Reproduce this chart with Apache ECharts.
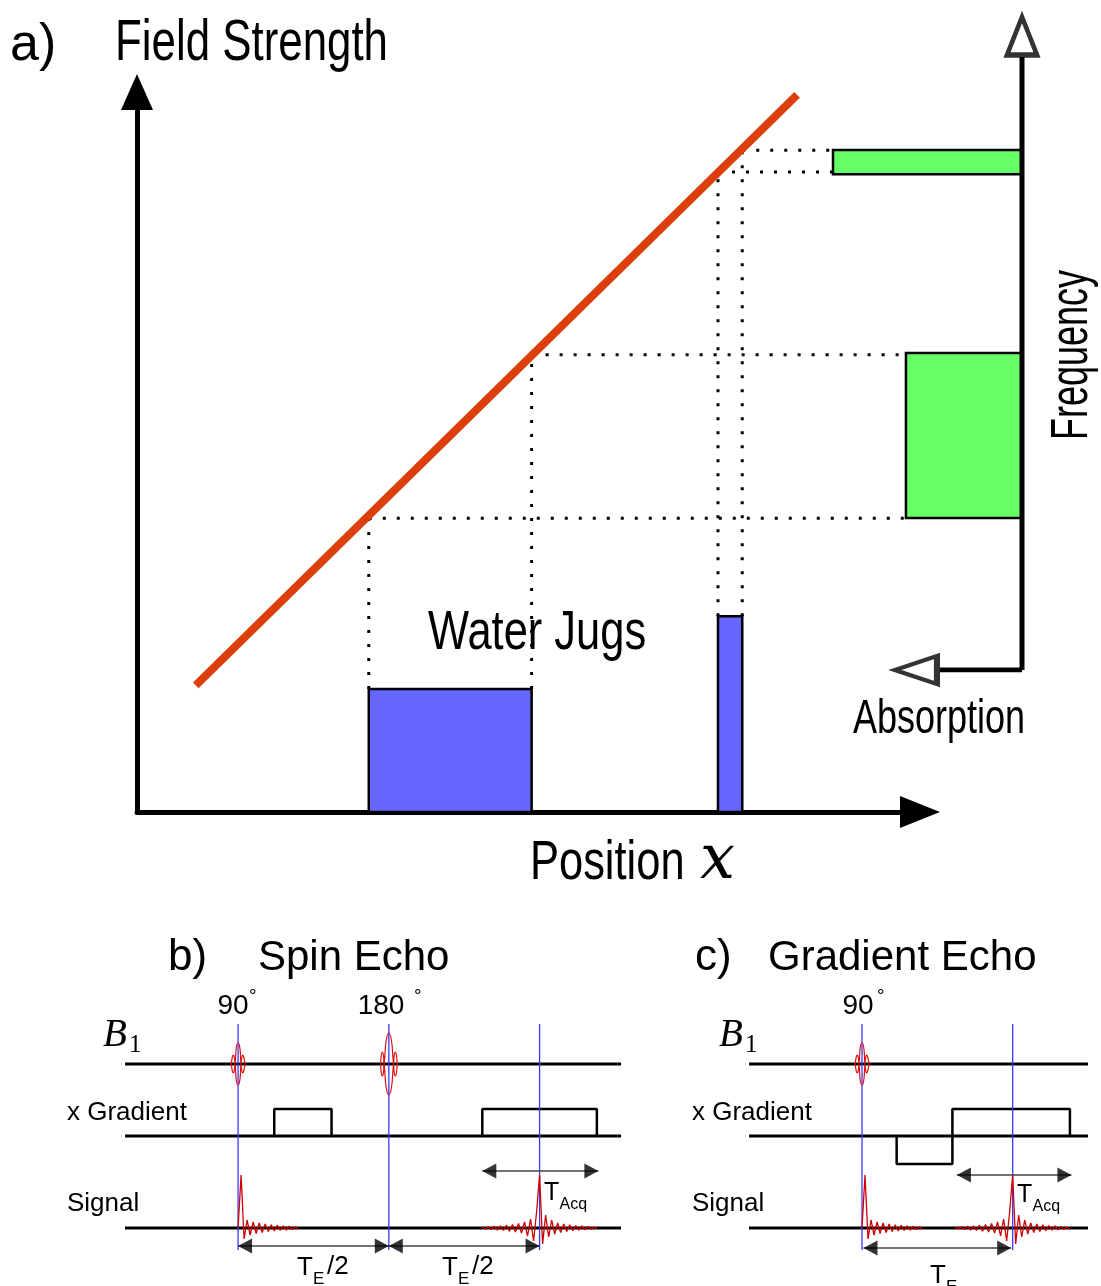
<!DOCTYPE html>
<html>
<head>
<meta charset="utf-8">
<script src="https://cdn.jsdelivr.net/npm/echarts@6/dist/echarts.min.js"></script>
<style>
  html, body { margin: 0; padding: 0; background: #fff; }
  #chart { width: 1101px; height: 1286px; }
</style>
</head>
<body>
<div id="chart"></div>
<script>
// ---------- a) field strength vs position ----------
var fieldLine = [[7.5, 17.6], [84.3, 99.6]];                 // [position, field]
var jugs = [[29.6, 50.4, 17.1], [74.2, 77.3, 27.2]];          // [x start, x end, height]
var dropLines = [[29.6, 17.1, 40.8], [50.4, 17.1, 63.5], [74.2, 27.2, 88.9], [77.3, 27.2, 91.9]]; // [x, y from, y to]
var levelLines = [[40.8, 29.6, 98.2], [63.5, 50.4, 98.2], [88.9, 74.2, 88.9], [91.9, 77.3, 88.9]]; // [y, x from, x to]
var spectrum = [[75.7, 79.4, 100], [23.2, 48.4, 61.4]];      // [freq low, freq high, absorption]

// ---------- b) spin echo / c) gradient echo (time in ms) ----------
var seTime = [-7.5, 25.4];
var sePulses = [[0, '90'], [10, '180']];
var seEcho = 20;
var seGrad = [[2.4, 6.2, 2.7], [16.2, 23.8, 2.7]];            // [start, end, amplitude]
var seArrows = [[0, 10, 0.4], [10, 20, 0.4], [16.2, 23.9, 7.9]]; // [from, to, level]

var geTime = [-7.5, 15];
var gePulses = [[0, '90']];
var geEcho = 10;
var geGrad = [[2.3, 6.0, -2.8], [6.0, 13.8, 2.7]];
var geArrows = [[0.1, 9.9, 0.2], [6.3, 13.9, 7.5]];

// rf pulse envelopes [dt, amplitude]
var env90 = [[-0.45, 0], [-0.38, 0.7], [-0.3, 0.9], [-0.24, 0.6], [-0.2, 0], [-0.12, 1.6], [0, 2.1],
             [0.12, 1.6], [0.2, 0], [0.24, 0.6], [0.3, 0.9], [0.38, 0.7], [0.45, 0]];
var env180 = [[-0.55, 0], [-0.5, 0.9], [-0.42, 1.2], [-0.35, 0.8], [-0.32, 0], [-0.18, 2.3], [0, 3.1],
              [0.18, 2.3], [0.32, 0], [0.35, 0.8], [0.42, 1.2], [0.5, 0.9], [0.55, 0]];
// sampled signals, one sample every sigStep ms
var sigStep = 0.2;
var fidAmp = [0, 5.3, -1.1, 0.8, -0.7, 0.6, -0.55, 0.5, -0.45, 0.4, -0.35, 0.32, -0.3, 0.27, -0.24,
              0.22, -0.2, 0.18, -0.16, 0.14, -0.12];
var echoAmp = [0.1, -0.12, 0.14, -0.16, 0.18, -0.2, 0.22, -0.25, 0.28, -0.32, 0.36, -0.4, 0.45, -0.5,
               0.6, -0.8, 0.9, -1.3, 1.6, 5.3, -1.6, 1.3, -0.9, 0.8, -0.6, 0.5, -0.45, 0.4, -0.36, 0.32,
               -0.28, 0.25, -0.22, 0.2, -0.18, 0.16, -0.14, 0.12, -0.1];

var SANS = '"Liberation Sans", Arial, Helvetica, sans-serif';
var SERIF = '"Liberation Serif", "Times New Roman", serif';
var ROW = { b1: 18.6, grad: 11.4, sig: 2.2 };

var chart = echarts.init(document.getElementById('chart'));

function hiddenAxis(gi, min, max, inverse) {
  return { type: 'value', gridIndex: gi, min: min, max: max, inverse: !!inverse, show: false };
}

function rectRender(fill) {
  return function (params, api) {
    var a = api.coord([api.value(0), api.value(1)]);
    var b = api.coord([api.value(2), api.value(3)]);
    return {
      type: 'rect',
      shape: { x: Math.min(a[0], b[0]), y: Math.min(a[1], b[1]), width: Math.abs(b[0] - a[0]), height: Math.abs(b[1] - a[1]) },
      style: { fill: fill, stroke: '#000', lineWidth: 2.5 }
    };
  };
}

function seg(idx, data, color, width, extra) {
  var s = {
    type: 'line', xAxisIndex: idx, yAxisIndex: idx, data: data, symbol: 'none', silent: true,
    lineStyle: { color: color, width: width }, z: 2
  };
  return Object.assign(s, extra || {});
}

var series = [];

// ---- panel a ----
series.push(seg(0, fieldLine, '#dc3f0c', 8, { z: 3 }));
dropLines.forEach(function (d) {
  series.push(seg(0, [[d[0], d[1]], [d[0], d[2]]], '#000', 3, { lineStyle: { color: '#000', width: 3, type: [3, 11] } }));
});
levelLines.forEach(function (d) {
  series.push(seg(0, [[d[1], d[0]], [d[2], d[0]]], '#000', 3, { lineStyle: { color: '#000', width: 3, type: [3, 11] } }));
});
series.push({
  type: 'custom', xAxisIndex: 0, yAxisIndex: 0, silent: true, z: 4,
  renderItem: rectRender('#6666ff'),
  encode: { x: [0, 2], y: [1, 3] },
  data: jugs.map(function (j) { return [j[0], 0, j[1], j[2]]; })
});

// ---- frequency / absorption axes ----
series.push({
  type: 'custom', xAxisIndex: 1, yAxisIndex: 1, silent: true, z: 4,
  renderItem: rectRender('#66ff66'),
  encode: { x: [0, 2], y: [1, 3] },
  data: spectrum.map(function (s) { return [0, s[0], s[2], s[1]]; })
});
series.push(seg(1, [[0, 0], [0, 93.6]], '#000', 5, { z: 5 }));
series.push(seg(1, [[0, 0], [43.4, 0]], '#000', 5, { z: 5 }));
series.push({
  type: 'scatter', xAxisIndex: 1, yAxisIndex: 1, silent: true, z: 6,
  symbol: 'triangle',
  itemStyle: { color: '#fff', borderColor: '#000', borderWidth: 5 },
  data: [
    { value: [0, 96.8], symbolSize: [30, 38], symbolRotate: 0 },
    { value: [56.1, 0], symbolSize: [28, 42], symbolRotate: 90 }
  ]
});

// ---- timing panels ----
function timing(idx, range, pulses, echo, grad, arrows) {
  [ROW.b1, ROW.grad, ROW.sig].forEach(function (r) {
    series.push(seg(idx, [[range[0], r], [range[1], r]], '#000', 3));
  });
  grad.forEach(function (g) {
    series.push(seg(idx, [[g[0], ROW.grad], [g[0], ROW.grad + g[2]], [g[1], ROW.grad + g[2]], [g[1], ROW.grad]], '#000', 2.5));
  });
  pulses.map(function (p) { return p[0]; }).concat([echo]).forEach(function (t) {
    series.push(seg(idx, [[t, 0], [t, 22.6]], '#3a3aff', 1.3, { z: 3 }));
  });
  pulses.forEach(function (p) {
    var env = p[1] === '180' ? env180 : env90;
    var up = env.map(function (e) { return [p[0] + e[0], ROW.b1 + e[1]]; });
    var lo = env.map(function (e) { return [p[0] + e[0], ROW.b1 - e[1]]; });
    series.push(seg(idx, up, '#e01010', 1.2, { z: 4, smooth: 0.4 }));
    series.push(seg(idx, lo, '#e01010', 1.2, { z: 4, smooth: 0.4 }));
  });
  series.push(seg(idx, fidAmp.map(function (v, i) { return [pulses[0][0] + (i - 1) * sigStep + sigStep, ROW.sig + v]; }), '#d00000', 1.3, { z: 4 }));
  var half = (echoAmp.length - 1) / 2;
  series.push(seg(idx, echoAmp.map(function (v, i) { return [echo + (i - half) * sigStep, ROW.sig + v]; }), '#d00000', 1.3, { z: 4 }));

  // double headed arrows
  var heads = [];
  arrows.forEach(function (a) {
    series.push(seg(idx, [[a[0], a[2]], [a[1], a[2]]], '#444', 1.3, { z: 5 }));
    heads.push({ value: [a[0], a[2]], symbolRotate: 90, symbolOffset: [7, 0] });
    heads.push({ value: [a[1], a[2]], symbolRotate: -90, symbolOffset: [-7, 0] });
  });
  series.push({
    type: 'scatter', xAxisIndex: idx, yAxisIndex: idx, silent: true, z: 6,
    symbol: 'triangle', symbolSize: [15, 14],
    itemStyle: { color: '#000' },
    data: heads
  });
}
timing(2, seTime, sePulses, seEcho, seGrad, seArrows);
timing(3, geTime, gePulses, geEcho, geGrad, geArrows);

// ---- text ----
function t(x, y, text, font, extra) {
  var e = {
    type: 'text', x: x, y: y, silent: true, z: 100,
    style: { text: text, font: font, fill: '#000', textAlign: 'left', textVerticalAlign: 'middle' }
  };
  if (extra) {
    if (extra.align) e.style.textAlign = extra.align;
    if (extra.scaleX) e.scaleX = extra.scaleX;
    if (extra.rotation) e.rotation = extra.rotation;
  }
  return e;
}
function sub(x, y, main, subText, size, subSize) {
  return [
    t(x, y, main, size + 'px ' + SANS),
    t(x + size * 0.62, y + size * 0.45, subText, subSize + 'px ' + SANS)
  ];
}

var graphics = [
  t(10, 46, 'a)', '52px ' + SANS),
  t(115, 44, 'Field Strength', '58px ' + SANS, { scaleX: 0.756 }),
  t(428, 634, 'Water Jugs', '55px ' + SANS, { scaleX: 0.79 }),
  t(853, 720, 'Absorption', '48px ' + SANS, { scaleX: 0.75 }),
  t(1073, 355, 'Frequency', '51px ' + SANS, { align: 'center', scaleX: 0.705, rotation: Math.PI / 2 }),
  t(530, 864, 'Position', '55px ' + SANS, { scaleX: 0.79 }),
  t(700, 862, 'x', 'italic 62px "DejaVu Serif", serif'),

  t(168, 958, 'b)', '44px ' + SANS),
  t(258, 958, 'Spin Echo', '42px ' + SANS),
  t(695, 958, 'c)', '44px ' + SANS),
  t(768, 958, 'Gradient Echo', '42px ' + SANS),

  t(233, 1006, '90', '28px ' + SANS, { align: 'center' }),
  t(249, 997, '°', '19px ' + SANS),
  t(381, 1006, '180', '28px ' + SANS, { align: 'center' }),
  t(414, 997, '°', '19px ' + SANS),
  t(858, 1006, '90', '28px ' + SANS, { align: 'center' }),
  t(877, 997, '°', '19px ' + SANS),

  t(103, 1036, 'B', 'italic 39px ' + SERIF),
  t(129, 1045, '1', '25px ' + SERIF),
  t(719, 1036, 'B', 'italic 39px ' + SERIF),
  t(745, 1045, '1', '25px ' + SERIF),

  t(67, 1113, 'x Gradient', '26px ' + SANS),
  t(67, 1204, 'Signal', '26px ' + SANS),
  t(692, 1113, 'x Gradient', '26px ' + SANS),
  t(692, 1204, 'Signal', '26px ' + SANS)
];
graphics = graphics
  .concat(sub(297, 1268, 'T', 'E', 26, 17))
  .concat([t(327, 1267, '/2', '26px ' + SANS)])
  .concat(sub(442, 1268, 'T', 'E', 26, 17))
  .concat([t(472, 1267, '/2', '26px ' + SANS)])
  .concat(sub(544, 1193, 'T', 'Acq', 25, 16))
  .concat(sub(1017, 1195, 'T', 'Acq', 25, 16))
  .concat(sub(930, 1276, 'T', 'E', 26, 17));

chart.setOption({
  animation: false,
  backgroundColor: '#fff',
  grid: [
    { left: 137, right: 181, top: 92, bottom: 474 },
    { left: 833, right: 79, top: 15, bottom: 616 },
    { left: 125, right: 480, top: 1024, bottom: 36 },
    { left: 749, right: 13, top: 1024, bottom: 36 }
  ],
  xAxis: [
    {
      type: 'value', gridIndex: 0, min: 0, max: 100,
      axisLine: { show: true, onZero: false, symbol: ['none', 'triangle'], symbolSize: [32, 40], lineStyle: { color: '#000', width: 5 } },
      axisTick: { show: false }, axisLabel: { show: false }, splitLine: { show: false }
    },
    hiddenAxis(1, 0, 100, true),
    hiddenAxis(2, seTime[0], seTime[1]),
    hiddenAxis(3, geTime[0], geTime[1])
  ],
  yAxis: [
    {
      type: 'value', gridIndex: 0, min: 0, max: 100,
      axisLine: { show: true, onZero: false, symbol: ['none', 'triangle'], symbolSize: [32, 36], lineStyle: { color: '#000', width: 5 } },
      axisTick: { show: false }, axisLabel: { show: false }, splitLine: { show: false }
    },
    hiddenAxis(1, 0, 100),
    hiddenAxis(2, 0, 22.6),
    hiddenAxis(3, 0, 22.6)
  ],
  series: series,
  graphic: graphics
});
</script>
</body>
</html>
